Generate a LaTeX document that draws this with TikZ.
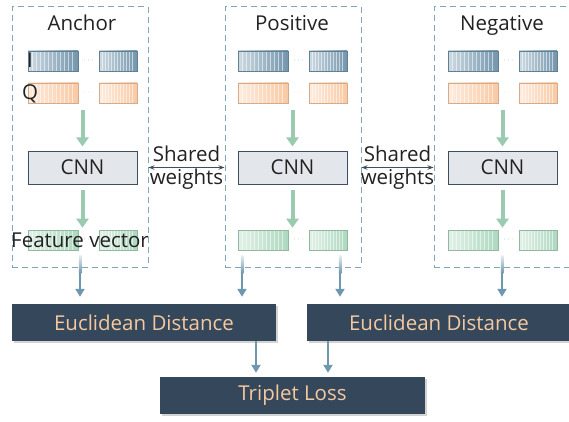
\documentclass[tikz,border=0pt]{standalone}
\usepackage{fontspec}
\setmainfont{Open Sans}
\usetikzlibrary{arrows.meta,shadows,calc}

\definecolor{frameblue}{HTML}{7FA5BA}
\definecolor{iblue}{HTML}{7396AD}
\definecolor{qorange}{HTML}{F9C9A3}
\definecolor{fgreen}{HTML}{ADD8BF}
\definecolor{arrowgreen}{HTML}{9ACBB0}
\definecolor{arrowblue}{HTML}{6F98AE}
\definecolor{cnnfill}{HTML}{E3E6EA}
\definecolor{cnnline}{HTML}{3E4E5E}
\definecolor{darkbox}{HTML}{34475B}
\definecolor{peach}{HTML}{F5C8A0}
\definecolor{textgray}{HTML}{222222}

\newcommand{\lbl}{\fontsize{20.5}{23}\selectfont}

\begin{document}
\begin{tikzpicture}[
    x=1pt, y=-1pt,
    frame/.style={draw=frameblue, dash pattern=on 6pt off 4pt, line width=1pt, inner sep=0pt},
    bar/.style={minimum height=20pt, inner sep=0pt, draw=#1!85!black, line width=0.6pt,
      left color=#1!35!white, right color=#1,
      path picture={\foreach \f in {0.08,0.16,...,0.93}
        \draw[white, opacity=0.55, line width=0.7pt]
          ($(path picture bounding box.north west)!\f!(path picture bounding box.north east)$) --
          ($(path picture bounding box.south west)!\f!(path picture bounding box.south east)$);}},
    dots/.style={font=\fontsize{8}{8}\selectfont, inner sep=0pt},
    cnn/.style={draw=cnnline, fill=cnnfill, line width=1pt, minimum width=109pt,
      minimum height=33pt, font=\lbl, text=textgray},
    dist/.style={fill=darkbox, text=peach, font=\lbl, minimum width=264pt, minimum height=37pt,
      drop shadow={opacity=0.35, shadow xshift=2pt, shadow yshift=-2pt}},
    label/.style={font=\lbl, text=textgray},
    greenarrow/.style={arrowgreen, line width=4pt, -{Triangle[width=12pt,length=9pt]}},
    bluearrow/.style={arrowblue, line width=2.5pt, -{Triangle[width=9pt,length=8pt]}},
    sharearrow/.style={cnnline, line width=1pt, {Stealth[length=6pt]}-{Stealth[length=6pt]}},
]
    \useasboundingbox (0,0) rectangle (569,422);

    % the three branches
    \foreach \n/\dx/\bx/\title in {anc/0/0/Anchor, pos/210/213/Positive, neg/420/422/Negative} {
      \node[frame, minimum width=136pt, minimum height=260pt] (\n-box) at (80+\bx,137) {};
      \node[label, anchor=base] (\n-title) at (82+\dx,31) {\title};
      % I and Q inputs
      \node[bar=iblue, minimum width=50pt] (\n-i1) at (53+\dx,61) {};
      \node[bar=iblue, minimum width=38pt] (\n-i2) at (118+\dx,61) {};
      \node[dots, text=iblue] (\n-idots) at (88.5+\dx,61) {$\cdots$};
      \node[bar=qorange, minimum width=50pt] (\n-q1) at (53+\dx,93) {};
      \node[bar=qorange, minimum width=38pt] (\n-q2) at (118+\dx,93) {};
      \node[dots, text=qorange] (\n-qdots) at (88.5+\dx,93) {$\cdots$};
      % network
      \node[cnn] (\n-cnn) at (82.5+\dx,167.5) {CNN};
      \coordinate (\n-in) at (82.5+\dx,110);
      \draw[greenarrow, shorten >=4pt] (\n-in) -- (\n-cnn.north);
      % features
      \node[bar=fgreen, minimum width=50pt] (\n-f1) at (53+\dx,240) {};
      \node[bar=fgreen, minimum width=38pt] (\n-f2) at (118+\dx,240) {};
      \node[dots, text=fgreen!80!black] (\n-fdots) at (88.5+\dx,240) {$\cdots$};
      \draw[greenarrow, shorten <=5pt, shorten >=2pt] (\n-cnn.south) -- (\n-cnn.south |- \n-f1.north);
    }

    \node[label, anchor=base] (ilabel) at (30,68) {I};
    \node[label, anchor=base] (qlabel) at (30,100) {Q};
    \node[label, anchor=base] (featlabel) at (80,247) {Feature vector};

    % shared weights
    \draw[sharearrow] (anc-box.east |- anc-cnn) -- (pos-box.west |- pos-cnn)
      node[midway, label, align=center] (share1) {Shared\\weights};
    \draw[sharearrow] (pos-box.east |- pos-cnn) -- (neg-box.west |- neg-cnn)
      node[midway, label, align=center] (share2) {Shared\\weights};

    % distances and loss
    \node[dist] (dist1) at (144,322.5) {Euclidean Distance};
    \node[dist] (dist2) at (439,322.5) {Euclidean Distance};
    \node[dist, minimum width=265pt] (loss) at (292.5,395.5) {Triplet Loss};

    \coordinate (anc-out) at (80,255);
    \coordinate (pos-out1) at (242,255);
    \coordinate (pos-out2) at (340,255);
    \coordinate (neg-out) at (502,255);
    \foreach \c/\d in {anc-out/dist1, pos-out1/dist1, pos-out2/dist2, neg-out/dist2} {
      \shade[top color=arrowblue!15, bottom color=arrowblue]
        ($(\c)+(-1.25,0)$) rectangle ($(\c)+(1.25,18)$);
      \draw[bluearrow, shorten >=7pt] ($(\c)+(0,17.5)$) -- (\c |- \d.north);
    }
    \draw[bluearrow, shorten >=4pt] ([xshift=112pt]dist1.south) -- ([xshift=112pt]dist1.south |- loss.north);
    \draw[bluearrow, shorten >=4pt] ([xshift=-111pt]dist2.south) -- ([xshift=-111pt]dist2.south |- loss.north);
\end{tikzpicture}
\end{document}
